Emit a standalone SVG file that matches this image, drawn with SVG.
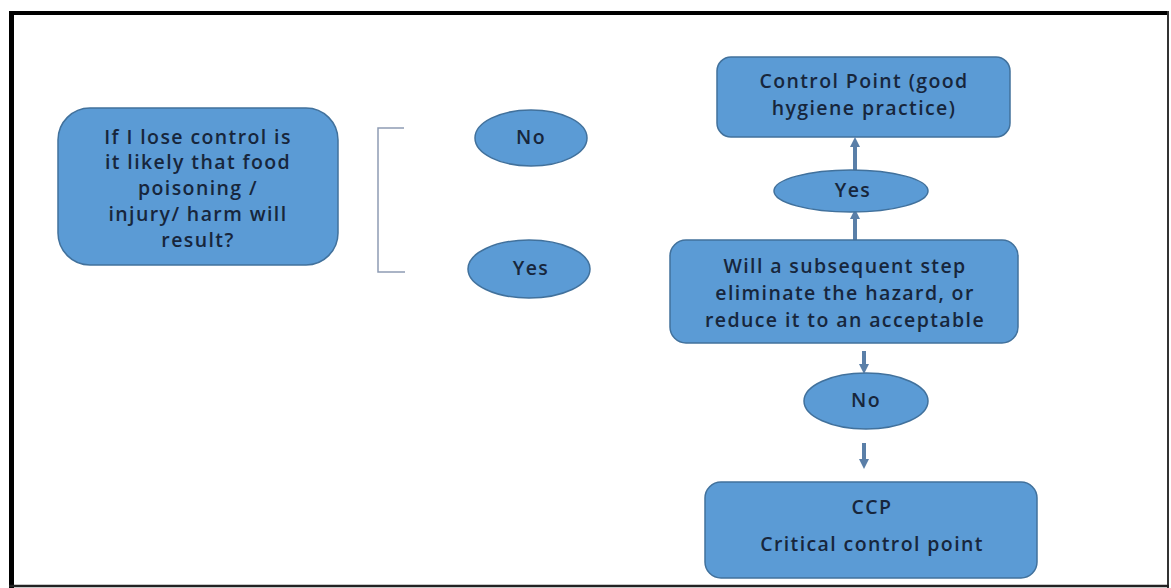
<svg xmlns="http://www.w3.org/2000/svg" width="1171" height="588" viewBox="0 0 1171 588">
<defs>
<style>
.box{fill:#5B9BD5;stroke:#41719C;stroke-width:1.5}
.t{font-family:"Open Sans","Liberation Sans",sans-serif;font-weight:600;font-size:19.5px;letter-spacing:1.4px;fill:#17263C;text-anchor:middle}
.conn{stroke:#5A7FA8;stroke-width:4;fill:none}
</style>
<marker id="ah" viewBox="0 0 10 10" refX="5" refY="5" markerWidth="2.5" markerHeight="2.5" orient="auto-start-reverse">
<path d="M0,0 L10,5 L0,10 z" fill="#5A7FA8"/>
</marker>
</defs>
<rect width="1171" height="588" fill="#ffffff"/>
<g id="frame">
<line x1="9" y1="13" x2="1169" y2="13" stroke="#000" stroke-width="4"/>
<line x1="11.5" y1="11" x2="11.5" y2="588" stroke="#000" stroke-width="5"/>
<line x1="1168" y1="11" x2="1168" y2="588" stroke="#333" stroke-width="2"/>
<line x1="9" y1="586" x2="1169" y2="586" stroke="#222" stroke-width="2.5"/>
</g>
<g id="connectors">
<path d="M404,128 L378,128 L378,272 L405,272" fill="none" stroke="#8E9CB4" stroke-width="1.5"/>
<line class="conn" x1="855" y1="170" x2="855" y2="142" marker-end="url(#ah)"/>
<line class="conn" x1="855" y1="240" x2="855" y2="214" marker-end="url(#ah)"/>
<line class="conn" x1="864" y1="351" x2="864" y2="369" marker-end="url(#ah)"/>
<line class="conn" x1="864" y1="443" x2="864" y2="464" marker-end="url(#ah)"/>
</g>
<g id="question1">
<rect class="box" x="58" y="108" width="280" height="157" rx="32"/>
<text class="t" x="198" y="144">If I lose control is</text>
<text class="t" x="198" y="169">it likely that food</text>
<text class="t" x="198" y="195">poisoning /</text>
<text class="t" x="198" y="221">injury/ harm will</text>
<text class="t" x="198" y="247">result?</text>
</g>
<g id="no1">
<ellipse class="box" cx="531" cy="138" rx="56" ry="28"/>
<text class="t" x="531" y="144">No</text>
</g>
<g id="yes1">
<ellipse class="box" cx="529" cy="269" rx="61" ry="29"/>
<text class="t" x="531" y="275">Yes</text>
</g>
<g id="controlpoint">
<rect class="box" x="717" y="57" width="293" height="80" rx="14"/>
<text class="t" x="864" y="88">Control Point (good</text>
<text class="t" x="864" y="115">hygiene practice)</text>
</g>
<g id="yes2">
<ellipse class="box" cx="851" cy="191" rx="77" ry="21"/>
<text class="t" x="853" y="197">Yes</text>
</g>
<g id="question2">
<rect class="box" x="670" y="240" width="348" height="103" rx="16"/>
<text class="t" x="845" y="273">Will a subsequent step</text>
<text class="t" x="845" y="300">eliminate the hazard, or</text>
<text class="t" x="845" y="327">reduce it to an acceptable</text>
</g>
<g id="no2">
<ellipse class="box" cx="866" cy="401" rx="62" ry="28"/>
<text class="t" x="866" y="407">No</text>
</g>
<g id="ccp">
<rect class="box" x="705" y="482" width="332" height="96" rx="16"/>
<text class="t" x="872" y="514">CCP</text>
<text class="t" x="872" y="551">Critical control point</text>
</g>
</svg>
